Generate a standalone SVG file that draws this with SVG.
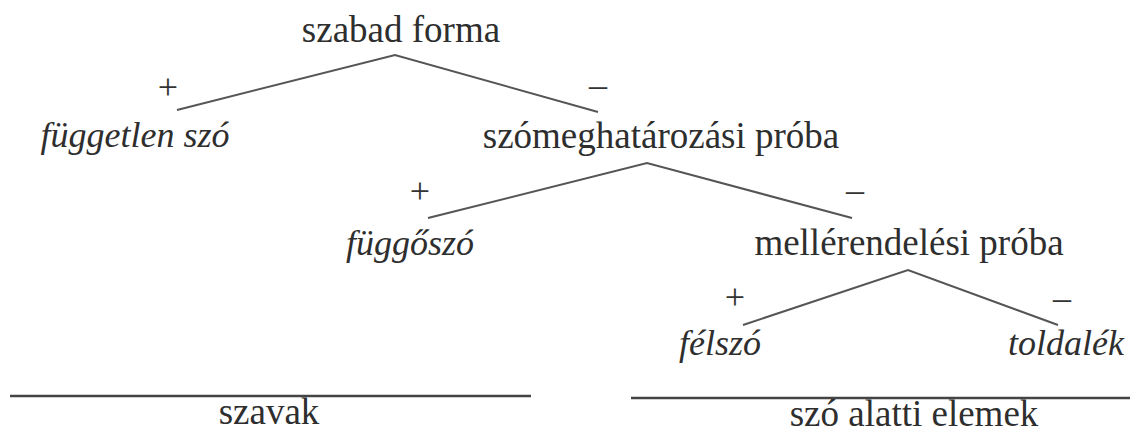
<svg xmlns="http://www.w3.org/2000/svg" width="1139" height="432" viewBox="0 0 1139 432">
<style>
.t{font-family:"Liberation Serif","Times New Roman",serif;font-size:37px;fill:#2e2e2e;text-anchor:middle}
.i{font-family:"Liberation Serif","Times New Roman",serif;font-size:36px;font-style:italic;fill:#2e2e2e;text-anchor:middle}
.s{font-family:"Liberation Serif","Times New Roman",serif;font-size:36px;fill:#333;text-anchor:middle}
.e{fill:none;stroke:#555;stroke-width:2;stroke-linejoin:miter}
.b{stroke:#444;stroke-width:2.5}
</style>
<rect width="1139" height="432" fill="#fff"/>
<g id="connectors">
<polyline class="e" points="177,110 395,55 598,112"/>
<polyline class="e" points="428,218 647,163 852,218"/>
<polyline class="e" points="743,325 908,270 1058,325"/>
<line class="b" x1="10" y1="396" x2="531" y2="396"/>
<line class="b" x1="631" y1="398" x2="1130" y2="398"/>
<text class="s" x="168" y="99">+</text>
<text class="s" x="598" y="97">–</text>
<text class="s" x="420" y="203">+</text>
<text class="s" x="855" y="202">–</text>
<text class="s" x="735" y="309">+</text>
<text class="s" x="1062" y="310">–</text>
</g>
<g id="szabad-forma"><text class="t" x="401" y="42">szabad forma</text></g>
<g id="fuggetlen-szo"><text class="i" x="135" y="147">független szó</text></g>
<g id="szomeghatarozasi-proba"><text class="t" x="661" y="148">szómeghatározási próba</text></g>
<g id="fuggoszo"><text class="i" x="410" y="255">függőszó</text></g>
<g id="mellerendelesi-proba"><text class="t" x="909" y="255">mellérendelési próba</text></g>
<g id="felszo"><text class="i" x="720" y="355">félszó</text></g>
<g id="toldalek"><text class="i" x="1066" y="355">toldalék</text></g>
<g id="szavak"><text class="t" x="269" y="424">szavak</text></g>
<g id="szo-alatti-elemek"><text class="t" x="914" y="426">szó alatti elemek</text></g>
</svg>
